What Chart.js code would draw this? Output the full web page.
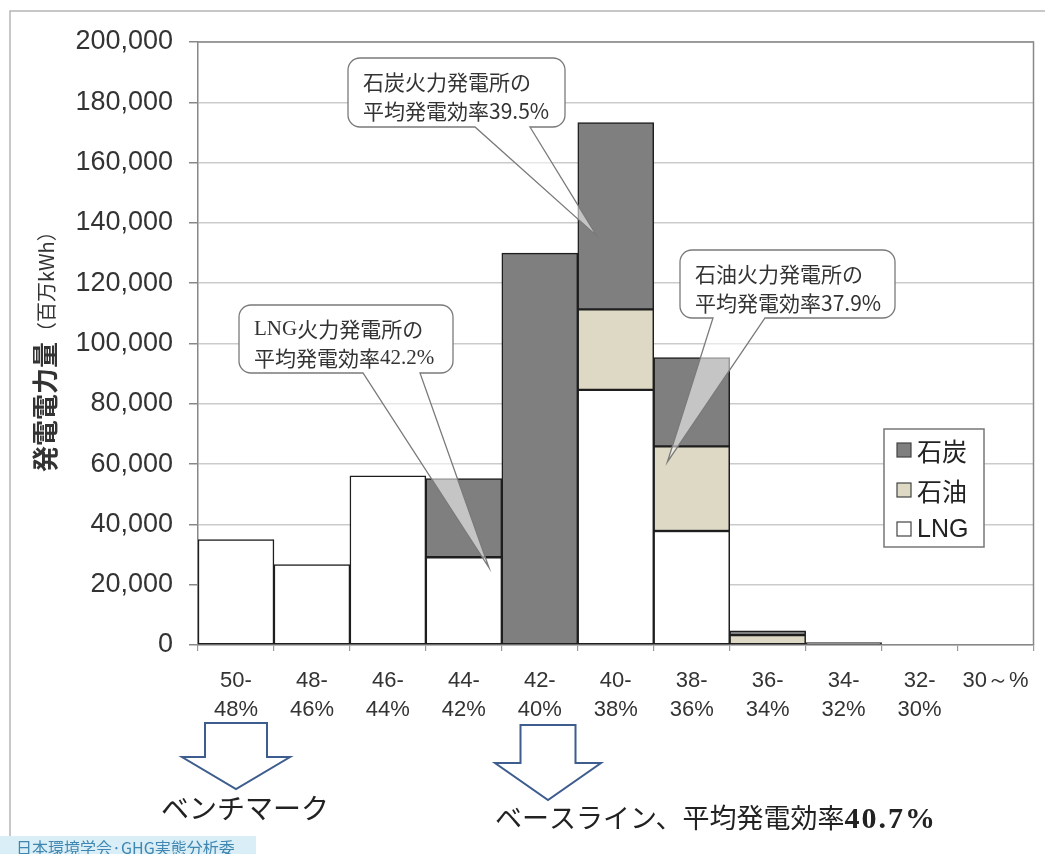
<!DOCTYPE html>
<html lang="ja">
<head>
<meta charset="utf-8">
<title>発電効率別の火力発電電力量</title>
<script src="https://cdn.jsdelivr.net/npm/chart.js@4.4.1/dist/chart.umd.min.js"></script>
<style>
  html, body { margin: 0; padding: 0; background: #fff; }
  #wrap { width: 1045px; height: 854px; }
</style>
</head>
<body>
<div id="wrap"><canvas id="genChart"></canvas></div>
<script>
// 発電効率の区分（高い順）
const efficiencyBands = [
  ["50-", "48%"], ["48-", "46%"], ["46-", "44%"], ["44-", "42%"], ["42-", "40%"],
  ["40-", "38%"], ["38-", "36%"], ["36-", "34%"], ["34-", "32%"], ["32-", "30%"], "30～%"
];

// 発電電力量（百万kWh）
const lngValues  = [35000, 26700, 56100, 29100, 0, 84600, 37800, 0, 0, 0, 0];
const oilValues  = [0, 0, 0, 0, 0, 26700, 28100, 3300, 0, 0, 0];
const coalValues = [0, 0, 0, 26100, 130000, 62000, 29400, 1400, 800, 0, 0];

const JP = "'Noto Sans CJK JP', sans-serif";
const SANS = "'Liberation Sans', Arial, sans-serif";
const SERIF = "'Liberation Serif', 'Times New Roman', serif";

// 吹き出し（tip はカテゴリ番号＋ずれ と 値）
const callouts = [
  {
    box: [348, 58, 217, 69], base: [475, 530],
    tip: { index: 5, offset: -0.25, value: 135700 },
    lines: [
      [["石炭火力発電所の", JP]],
      [["平均発電効率", JP], ["39.5%", JP]]
    ]
  },
  {
    box: [239, 305, 214, 68], base: [363, 420],
    tip: { index: 3, offset: 0.33, value: 25700 },
    lines: [
      [["LNG", SERIF], ["火力発電所の", JP]],
      [["平均発電効率", JP], ["42.2%", SERIF]]
    ]
  },
  {
    box: [680, 250, 215, 68], base: [713, 765],
    tip: { index: 6, offset: -0.32, value: 60700 },
    lines: [
      [["石油火力発電所の", JP]],
      [["平均発電効率", JP], ["37.9%", JP]]
    ]
  }
];

function drawRuns(ctx, runs, x, y, size) {
  ctx.textAlign = 'left';
  ctx.textBaseline = 'middle';
  for (const [text, family] of runs) {
    ctx.font = size + 'px ' + family;
    ctx.fillText(text, x, y);
    x += ctx.measureText(text).width;
  }
}

function drawCallout(ctx, c, tip) {
  const [x, y, w, h] = c.box;
  const [b0, b1] = c.base;
  const r = 12;
  ctx.save();
  // 吹き出しの三角（半透明）
  ctx.beginPath();
  ctx.moveTo(b0, y + h);
  ctx.lineTo(tip.x, tip.y);
  ctx.lineTo(b1, y + h);
  ctx.closePath();
  ctx.fillStyle = 'rgba(255,255,255,0.55)';
  ctx.fill();
  ctx.beginPath();
  ctx.roundRect(x, y, w, h, r);
  ctx.fillStyle = '#fff';
  ctx.fill();
  // 外形線
  ctx.beginPath();
  ctx.moveTo(b1, y + h);
  ctx.arcTo(x + w, y + h, x + w, y, r);
  ctx.arcTo(x + w, y, x, y, r);
  ctx.arcTo(x, y, x, y + h, r);
  ctx.arcTo(x, y + h, x + w, y + h, r);
  ctx.lineTo(b0, y + h);
  ctx.lineTo(tip.x, tip.y);
  ctx.closePath();
  ctx.strokeStyle = '#7a7a7a';
  ctx.lineWidth = 1.3;
  ctx.stroke();
  ctx.fillStyle = '#333';
  drawRuns(ctx, c.lines[0], x + 15, y + 24, 21);
  drawRuns(ctx, c.lines[1], x + 15, y + 53, 21);
  ctx.restore();
}

function blockArrow(ctx, cx, top, shaftW, headW, shoulder, tipY) {
  ctx.beginPath();
  ctx.moveTo(cx - shaftW / 2, top);
  ctx.lineTo(cx + shaftW / 2, top);
  ctx.lineTo(cx + shaftW / 2, shoulder);
  ctx.lineTo(cx + headW / 2, shoulder);
  ctx.lineTo(cx, tipY);
  ctx.lineTo(cx - headW / 2, shoulder);
  ctx.lineTo(cx - shaftW / 2, shoulder);
  ctx.closePath();
  ctx.fillStyle = '#fff';
  ctx.fill();
  ctx.strokeStyle = '#3d5d8e';
  ctx.lineWidth = 2;
  ctx.stroke();
}

const decorations = {
  id: 'decorations',
  beforeDraw(chart) {
    const ctx = chart.ctx;
    ctx.save();
    ctx.fillStyle = '#fff';
    ctx.fillRect(0, 0, chart.width, chart.height);
    // 外枠
    ctx.strokeStyle = '#b5b5b5';
    ctx.lineWidth = 1.5;
    ctx.beginPath();
    ctx.moveTo(10, 836);
    ctx.lineTo(10, 11);
    ctx.lineTo(chart.width, 11);
    ctx.stroke();
    ctx.restore();
  },
  afterDatasetsDraw(chart) {
    const ctx = chart.ctx;
    const { left, top, right, bottom } = chart.chartArea;
    const xs = chart.scales.x, ys = chart.scales.y;
    ctx.save();
    // プロットエリアの枠（上・右）
    ctx.strokeStyle = '#888';
    ctx.lineWidth = 1.5;
    ctx.beginPath();
    ctx.moveTo(left, top);
    ctx.lineTo(right, top);
    ctx.lineTo(right, bottom);
    ctx.stroke();

    for (const c of callouts) {
      const tip = {
        x: xs.getPixelForValue(c.tip.index + c.tip.offset),
        y: ys.getPixelForValue(c.tip.value)
      };
      drawCallout(ctx, c, tip);
    }

    // 凡例
    const lx = 884, ly = 429, lw = 100, lh = 118;
    ctx.fillStyle = '#fff';
    ctx.fillRect(lx, ly, lw, lh);
    ctx.strokeStyle = '#777';
    ctx.lineWidth = 1.5;
    ctx.strokeRect(lx, ly, lw, lh);
    const rows = [450, 490, 529];
    chart.data.datasets.slice().reverse().forEach((ds, i) => {
      const cy = rows[i];
      ctx.fillStyle = ds.backgroundColor;
      ctx.fillRect(lx + 13, cy - 7, 14, 14);
      ctx.strokeStyle = '#444';
      ctx.lineWidth = 1.2;
      ctx.strokeRect(lx + 13, cy - 7, 14, 14);
      ctx.fillStyle = '#222';
      ctx.textAlign = 'left';
      ctx.textBaseline = 'middle';
      ctx.font = '25px ' + (ds.label === 'LNG' ? SANS : JP);
      ctx.fillText(ds.label, lx + 33, cy + 1);
    });
    ctx.restore();
  },
  afterDraw(chart) {
    const ctx = chart.ctx;
    ctx.save();
    // 縦軸タイトル
    ctx.translate(45, 342);
    ctx.rotate(-Math.PI / 2);
    ctx.fillStyle = '#333';
    ctx.textBaseline = 'middle';
    ctx.textAlign = 'right';
    ctx.font = 'bold 26px ' + JP;
    ctx.fillText('発電電力量', 0, 0);
    ctx.textAlign = 'left';
    ctx.font = '20px ' + JP;
    ctx.fillText('（百万kWh）', 0, 1);
    ctx.restore();

    ctx.save();
    blockArrow(ctx, 236, 723, 62, 108, 757, 789);
    blockArrow(ctx, 548, 725, 55, 106, 763, 800);
    ctx.fillStyle = '#222';
    ctx.textBaseline = 'middle';
    ctx.textAlign = 'center';
    ctx.font = '28px ' + JP;
    ctx.fillText('ベンチマーク', 245, 808);
    ctx.textAlign = 'left';
    ctx.font = '27px ' + JP;
    const base = 'ベースライン、平均発電効率';
    ctx.fillText(base, 495, 818);
    const bx = 495 + ctx.measureText(base).width;
    ctx.font = 'bold 30px ' + SERIF;
    ctx.letterSpacing = '2px';
    ctx.fillText('40.7%', bx, 820);
    ctx.letterSpacing = '0px';

    // 出典
    ctx.fillStyle = '#d9eef6';
    ctx.fillRect(0, 836, 256, 18);
    ctx.fillStyle = '#3f86b0';
    ctx.font = '16px ' + JP;
    ctx.fillText('日本環境学会·GHG実態分析委', 16, 848);
    ctx.restore();
  }
};

const barStyle = {
  borderColor: '#1e1e1e',
  borderWidth: 1.5,
  borderSkipped: false,
  barPercentage: 1,
  categoryPercentage: 1
};

new Chart(document.getElementById('genChart'), {
  type: 'bar',
  data: {
    labels: efficiencyBands,
    datasets: [
      { label: 'LNG', data: lngValues, backgroundColor: '#ffffff', ...barStyle },
      { label: '石油', data: oilValues, backgroundColor: '#ddd9c4', ...barStyle },
      { label: '石炭', data: coalValues, backgroundColor: '#7f7f7f', ...barStyle }
    ]
  },
  options: {
    responsive: true,
    maintainAspectRatio: false,
    animation: false,
    events: [],
    layout: { padding: { top: 42, right: 10, left: 0, bottom: 0 } },
    plugins: { legend: { display: false }, tooltip: { enabled: false } },
    scales: {
      x: {
        stacked: true,
        grid: { drawOnChartArea: false, tickLength: 6, tickColor: '#999', lineWidth: 1.2 },
        border: { color: '#888', width: 1.5 },
        ticks: {
          color: '#333',
          font: { family: SANS, size: 22, lineHeight: 1.3 },
          padding: 16,
          maxRotation: 0,
          autoSkip: false
        },
        afterFit: s => { s.height = 209; }
      },
      y: {
        stacked: true,
        min: 0,
        max: 200000,
        grid: { color: '#cbcbcb', lineWidth: 1.5, tickLength: 9, tickColor: '#888' },
        border: { color: '#888', width: 1.5 },
        ticks: {
          stepSize: 20000,
          color: '#333',
          font: { family: SANS, size: 27 },
          padding: 16,
          callback: v => v.toLocaleString('en-US')
        },
        afterFit: s => { s.width = 198; }
      }
    }
  },
  plugins: [decorations]
});
</script>
</body>
</html>
